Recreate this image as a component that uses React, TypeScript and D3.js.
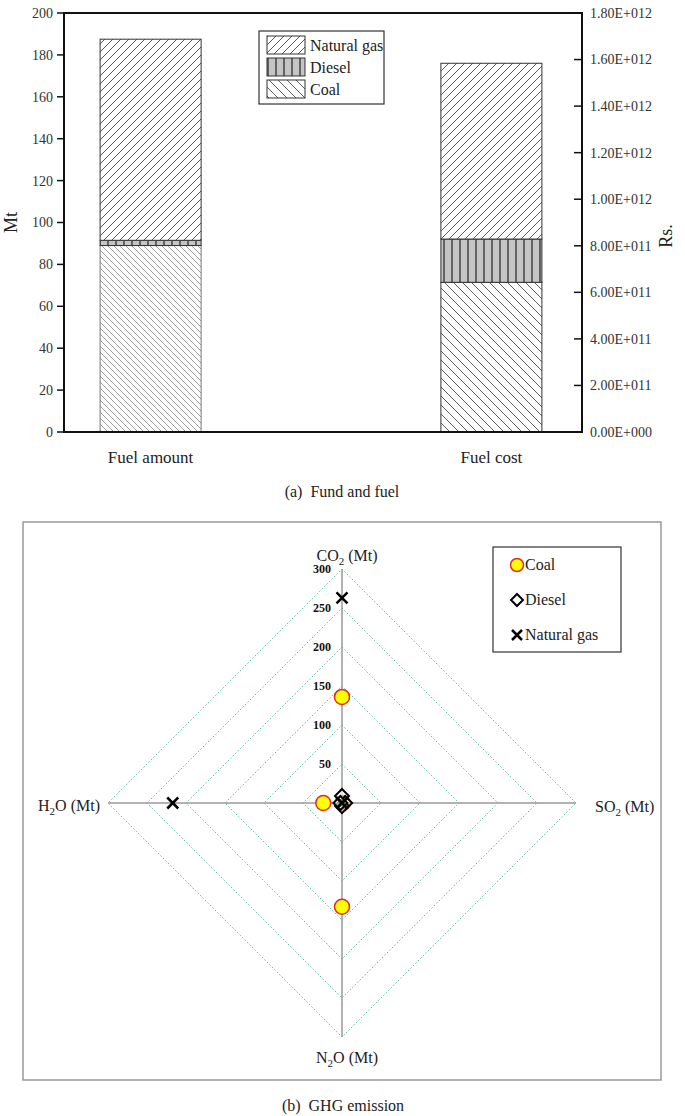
import React from 'react';
import * as d3 from 'd3';

// ---- data: (a) fund and fuel ----
const categories = ['Fuel amount', 'Fuel cost'];
const fuels = ['Coal', 'Diesel', 'Natural gas'];
const fuelAmountMt = [89, 2.5, 96];          // Mt, left axis
const fuelCostRs = [6.43e11, 1.86e11, 7.55e11]; // Rs., right axis
const leftTicks = [0, 20, 40, 60, 80, 100, 120, 140, 160, 180, 200];
const rightTicks = [0, 2e11, 4e11, 6e11, 8e11, 1e12, 1.2e12, 1.4e12, 1.6e12, 1.8e12];

// ---- data: (b) GHG emission ----
const radarAxes = [
  { chem: 'CO', sub: '2' },
  { chem: 'SO', sub: '2' },
  { chem: 'N', sub: '2', tail: 'O' },
  { chem: 'H', sub: '2', tail: 'O' },
];
const coalEmission = [136, 1, 133, 24];
const dieselEmission = [9, 4, 4, 2];
const gasEmission = [263, 0, 0, 217];
const radarTicks = [0, 50, 100, 150, 200, 250, 300];

const serif = 'Liberation Serif, Times New Roman, Tinos, serif';

const sciFormat = (v: number) => {
  if (v === 0) return '0.00E+000';
  const e = Math.floor(Math.log10(v));
  return (v / Math.pow(10, e)).toFixed(2) + 'E+' + String(e).padStart(3, '0');
};

const patternFor: Record<string, string> = {
  'Coal': 'url(#coalA)',
  'Diesel': 'url(#diesel)',
  'Natural gas': 'url(#gas)',
};

function FuelChart() {
  const left = 64, right = 582, top = 13, bottom = 432;
  const y = d3.scaleLinear().domain([0, 200]).range([bottom, top]);
  const yR = d3.scaleLinear().domain([0, 1.8e12]).range([bottom, top]);
  const x = d3.scalePoint<string>().domain(categories).range([left, right]).padding(0.26);
  const barW = 101;

  const stacks = [fuelAmountMt, fuelCostRs].map((vals, ci) => {
    const sc = ci === 0 ? y : yR;
    let acc = 0;
    return vals.map((v, i) => {
      const y0 = acc;
      acc += v;
      return { fuel: fuels[i], yTop: sc(acc), yBot: sc(y0) };
    });
  });

  const legendItems = ['Natural gas', 'Diesel', 'Coal'];

  return (
    <g>
      {/* bars */}
      {stacks.map((segs, ci) => {
        const cx = (x(categories[ci]) as number) - 2;
        return (
          <g key={ci}>
            {segs.map(s => (
              <rect key={s.fuel} x={cx - barW / 2} y={s.yTop} width={barW} height={s.yBot - s.yTop}
                fill={s.fuel === 'Coal' && ci === 1 ? 'url(#coalB)' : patternFor[s.fuel]}
                stroke={s.fuel === 'Coal' && ci === 0 ? '#777' : '#333'} strokeWidth={1} />
            ))}
          </g>
        );
      })}

      {/* frame */}
      <line x1={left} x2={right} y1={top} y2={top} stroke="#111" strokeWidth={2} />
      <line x1={left} x2={right} y1={bottom} y2={bottom} stroke="#111" strokeWidth={2} />
      <line x1={left} x2={left} y1={top - 1} y2={bottom + 1} stroke="#111" strokeWidth={2} />
      <line x1={right} x2={right} y1={top - 1} y2={bottom + 1} stroke="#111" strokeWidth={2} />

      {/* left axis */}
      {leftTicks.map(t => (
        <g key={t}>
          <line x1={left - 7} x2={left} y1={y(t)} y2={y(t)} stroke="#111" strokeWidth={1.5} />
          <text x={left - 11} y={y(t)} dy="0.35em" textAnchor="end" fontSize={14} fill="#333">{t}</text>
        </g>
      ))}
      <text transform={`translate(17,${(top + bottom) / 2}) rotate(-90)`} textAnchor="middle" fontSize={18} fill="#222">Mt</text>

      {/* right axis */}
      {rightTicks.map(t => (
        <g key={t}>
          <line x1={right - 8} x2={right} y1={yR(t)} y2={yR(t)} stroke="#111" strokeWidth={1.5} />
          <text x={right + 8} y={yR(t)} dy="0.35em" textAnchor="start" fontSize={14} fill="#333">{sciFormat(t)}</text>
        </g>
      ))}
      <text transform={`translate(672,236) rotate(-90)`} textAnchor="middle" fontSize={18} fill="#222">Rs.</text>

      {/* category labels */}
      {categories.map(c => (
        <text key={c} x={(x(c) as number) - 2} y={463} textAnchor="middle" fontSize={17} fill="#222">{c}</text>
      ))}

      {/* legend */}
      <rect x={259} y={31} width={125} height={73} fill="#fff" stroke="#333" strokeWidth={1.2} />
      {legendItems.map((f, i) => (
        <g key={f}>
          <rect x={267} y={36 + i * 22} width={38} height={18}
            fill={f === 'Coal' ? 'url(#coalB)' : patternFor[f]} stroke="#333" strokeWidth={1} />
          <text x={310} y={51 + i * 22} fontSize={16} fill="#222">{f}</text>
        </g>
      ))}

      <text x={342} y={497} textAnchor="middle" fontSize={16} fill="#222" xmlSpace="preserve">(a)  Fund and fuel</text>
    </g>
  );
}

function RadarChart() {
  const cx = 342, cy = 803;
  const r = d3.scaleLinear().domain([0, 300]).range([0, 234]);
  const angles = [-Math.PI / 2, 0, Math.PI / 2, Math.PI];
  const pt = (v: number, i: number): [number, number] =>
    [cx + Math.cos(angles[i]) * r(v), cy + Math.sin(angles[i]) * r(v)];
  const ring = (t: number) =>
    d3.line<number>().x(i => pt(t, i)[0]).y(i => pt(t, i)[1]).curve(d3.curveLinearClosed)([0, 1, 2, 3]) || '';

  const diamond = (px: number, py: number, s: number) =>
    `M${px},${py - s}L${px + s},${py}L${px},${py + s}L${px - s},${py}Z`;
  const cross = (px: number, py: number, s: number) =>
    `M${px - s},${py - s}L${px + s},${py + s}M${px - s},${py + s}L${px + s},${py - s}`;

  const labelPos = [
    { x: 347, y: 561, anchor: 'middle' },
    { x: 595, y: 812, anchor: 'start' },
    { x: 347, y: 1063, anchor: 'middle' },
    { x: 100, y: 811, anchor: 'end' },
  ];

  return (
    <g>
      <rect x={23} y={522} width={638} height={558} fill="none" stroke="#999" strokeWidth={1.5} />

      {/* grid diamonds */}
      {radarTicks.slice(1).map(t => (
        <path key={t} d={ring(t)} fill="none" stroke="#5cc49a" strokeWidth={1} strokeDasharray="1.5,2" />
      ))}
      {/* spokes */}
      {angles.map((_, i) => {
        const [x2, y2] = pt(300, i);
        return <line key={i} x1={cx} y1={cy} x2={x2} y2={y2} stroke="#999" strokeWidth={1.5} />;
      })}
      {/* tick labels on CO2 axis */}
      {radarTicks.map(t => (
        <text key={t} x={331} y={pt(t, 0)[1]} dy="0.35em" textAnchor="end" fontSize={12} fontWeight="bold" fill="#111">{t}</text>
      ))}

      {/* axis labels */}
      {radarAxes.map((a, i) => (
        <text key={i} x={labelPos[i].x} y={labelPos[i].y} textAnchor={labelPos[i].anchor} fontSize={16} fill="#222">
          {a.chem}<tspan fontSize={11} dy={4}>{a.sub}</tspan><tspan dy={-4}>{(a.tail || '') + ' (Mt)'}</tspan>
        </text>
      ))}

      {/* coal */}
      {coalEmission.map((v, i) => {
        const [px, py] = pt(v, i);
        return <circle key={i} cx={px} cy={py} r={7.5} fill="#ffff00" stroke="#e8281e" strokeWidth={1.5} />;
      })}
      {/* diesel */}
      {dieselEmission.map((v, i) => {
        const [px, py] = pt(v, i);
        return <path key={i} d={diamond(px, py, 7)} fill="#fff" fillOpacity={0.6} stroke="#000" strokeWidth={2} />;
      })}
      {/* natural gas */}
      {gasEmission.map((v, i) => {
        const [px, py] = pt(v, i);
        return <path key={i} d={cross(px, py, 5.5)} fill="none" stroke="#000" strokeWidth={2.5} />;
      })}

      {/* legend */}
      <rect x={493} y={547} width={128} height={105} fill="#fff" stroke="#333" strokeWidth={1.2} />
      <circle cx={517} cy={565} r={6.5} fill="#ffff00" stroke="#e8281e" strokeWidth={1.5} />
      <text x={525} y={570} fontSize={16} fill="#222">Coal</text>
      <path d={diamond(517, 600, 6)} fill="#fff" stroke="#000" strokeWidth={2} />
      <text x={525} y={605} fontSize={16} fill="#222">Diesel</text>
      <path d={cross(517, 635, 5)} fill="none" stroke="#000" strokeWidth={2.5} />
      <text x={525} y={640} fontSize={16} fill="#222">Natural gas</text>

      <text x={343} y={1111} textAnchor="middle" fontSize={16} fill="#222" xmlSpace="preserve">(b)  GHG emission</text>
    </g>
  );
}

export default function App() {
  return (
    <svg width={685} height={1116}
      style={{ position: 'absolute', left: 0, top: 0, background: '#fff', fontFamily: serif }}>
      <defs>
        <pattern id="gas" patternUnits="userSpaceOnUse" width={8} height={8}>
          <rect width={8} height={8} fill="#fff" />
          <path d="M0,8L8,0M-2,2L2,-2M6,10L10,6" stroke="#333" strokeWidth={0.8} />
        </pattern>
        <pattern id="coalA" patternUnits="userSpaceOnUse" width={6} height={6}>
          <rect width={6} height={6} fill="#fff" />
          <path d="M0,0L6,6M-2,4L2,8M4,-2L8,2" stroke="#888" strokeWidth={0.8} />
        </pattern>
        <pattern id="coalB" patternUnits="userSpaceOnUse" width={9} height={9}>
          <rect width={9} height={9} fill="#fff" />
          <path d="M0,0L9,9M-3,6L3,12M6,-3L12,3" stroke="#333" strokeWidth={0.8} />
        </pattern>
        <pattern id="diesel" patternUnits="userSpaceOnUse" width={8} height={8}>
          <rect width={8} height={8} fill="#c4c4c4" />
          <path d="M4,0L4,8" stroke="#222" strokeWidth={1.2} />
        </pattern>
      </defs>
      <FuelChart />
      <RadarChart />
    </svg>
  );
}
